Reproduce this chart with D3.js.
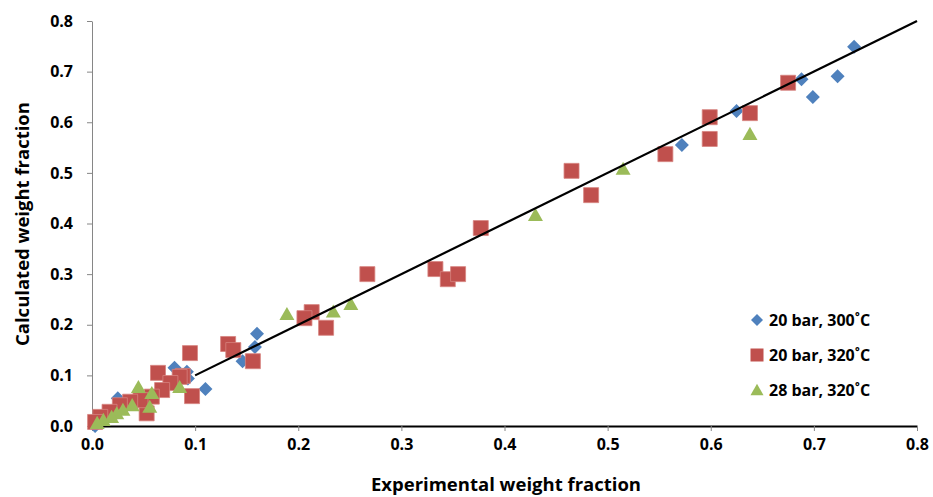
<!DOCTYPE html>
<html><head><meta charset="utf-8">
<script src="https://cdn.jsdelivr.net/npm/d3@7"></script>
<style>body{margin:0;background:#fff}svg{display:block}</style>
</head><body><div id="chart"></div>
<script>
const seriesNames = ["20 bar, 300˚C", "20 bar, 320˚C", "28 bar, 320˚C"];
const seriesColors = ["#4F81BD", "#C0504D", "#9BBB59"];
const blueX = [0.739,0.723,0.699,0.688,0.625,0.572,0.160,0.158,0.146,0.080,0.092,0.093,0.110,0.025,0.003];
const blueY = [0.749,0.691,0.650,0.685,0.622,0.555,0.182,0.156,0.128,0.115,0.107,0.094,0.073,0.055,0.000];
const redX = [0.675,0.638,0.599,0.599,0.556,0.465,0.484,0.377,0.333,0.345,0.355,0.267,0.213,0.206,0.227,0.132,0.137,0.156,0.095,0.088,0.097,0.064,0.085,0.076,0.068,0.058,0.053,0.047,0.037,0.027,0.017,0.008,0.003];
const redY = [0.678,0.618,0.610,0.567,0.537,0.504,0.456,0.391,0.310,0.290,0.300,0.300,0.225,0.213,0.194,0.162,0.150,0.128,0.144,0.099,0.059,0.105,0.097,0.085,0.071,0.058,0.025,0.051,0.048,0.041,0.028,0.018,0.008];
const greenX = [0.638,0.515,0.430,0.251,0.234,0.189,0.085,0.045,0.058,0.056,0.039,0.030,0.024,0.019,0.011,0.005];
const greenY = [0.577,0.508,0.417,0.241,0.226,0.221,0.077,0.077,0.065,0.038,0.041,0.032,0.025,0.018,0.012,0.006];
const parityLine = [0.1, 0.8];
const xTicks = [0,0.1,0.2,0.3,0.4,0.5,0.6,0.7,0.8];
const yTicks = [0,0.1,0.2,0.3,0.4,0.5,0.6,0.7,0.8];
const xTitle = "Experimental weight fraction";
const yTitle = "Calculated weight fraction";

const W = 933, H = 497;
const FONT = "'Open Sans', Lato, sans-serif";
const svg = d3.select("#chart").append("svg").attr("width", W).attr("height", H);
const x = d3.scaleLinear().domain([0,0.8]).range([92,917]);
const y = d3.scaleLinear().domain([0,0.8]).range([426,21]);

// y axis
const yAxis = svg.append("g").attr("transform","translate(92,0)")
  .call(d3.axisLeft(y).tickValues(yTicks).tickFormat(d3.format(".1f")).tickSize(5).tickSizeOuter(0));
yAxis.select(".domain").attr("stroke","#868686");
yAxis.selectAll(".tick line").attr("stroke","#868686");
yAxis.selectAll(".tick text").attr("font-family",FONT).attr("font-weight","bold").attr("font-size",16).attr("fill","#000").attr("x",-19);

// x axis
const xAxis = svg.append("g").attr("transform","translate(0,426)")
  .call(d3.axisBottom(x).tickValues(xTicks).tickFormat(d3.format(".1f")).tickSize(5).tickSizeOuter(0));
xAxis.select(".domain").attr("stroke","#000").attr("stroke-width",2);
xAxis.selectAll(".tick line").attr("stroke","#868686");
xAxis.selectAll(".tick text").attr("font-family",FONT).attr("font-weight","bold").attr("font-size",16).attr("fill","#000").attr("y",13);

// markers
function diamond(s){return `M0,${-s}L${s},0L0,${s}L${-s},0Z`;}
function square(s){return `M${-s},${-s}H${s}V${s}H${-s}Z`;}
function triangle(s){return `M0,${-s*0.95}L${s},${s*0.8}L${-s},${s*0.8}Z`;}
const shapes = [()=>diamond(7), ()=>square(7.5), ()=>triangle(7.5)];
const data = [
  blueX.map((v,i)=>[v,blueY[i]]),
  redX.map((v,i)=>[v,redY[i]]),
  greenX.map((v,i)=>[v,greenY[i]])
];
data.forEach((pts,si)=>{
  svg.append("g").selectAll("path").data(pts).join("path")
    .attr("d",shapes[si]())
    .attr("transform",d=>`translate(${x(d[0])},${y(d[1])})`)
    .attr("fill",seriesColors[si])
    .attr("stroke", si===1 ? "#D7837F" : "none").attr("stroke-width",0.8);
});

// parity line
svg.append("line")
  .attr("x1",x(parityLine[0])).attr("y1",y(parityLine[0]))
  .attr("x2",x(parityLine[1])).attr("y2",y(parityLine[1]))
  .attr("stroke","#000").attr("stroke-width",2.2);

// titles
svg.append("text").attr("x",506).attr("y",491).attr("text-anchor","middle")
  .attr("font-family",FONT).attr("font-weight","bold").attr("font-size",18.5).text(xTitle);
svg.append("text").attr("transform","translate(29,224) rotate(-90)").attr("text-anchor","middle")
  .attr("font-family",FONT).attr("font-weight","bold").attr("font-size",18.5).text(yTitle);

// legend
const lg = svg.append("g");
seriesNames.forEach((n,i)=>{
  const ly = 320 + i*35;
  lg.append("path").attr("d",[diamond(6),square(6.5),triangle(6.5)][i])
    .attr("transform",`translate(757,${ly})`).attr("fill",seriesColors[i]);
  lg.append("text").attr("x",769).attr("y",ly+6)
    .attr("font-family",FONT).attr("font-weight","bold").attr("font-size",16).text(n);
});
</script></body></html>
